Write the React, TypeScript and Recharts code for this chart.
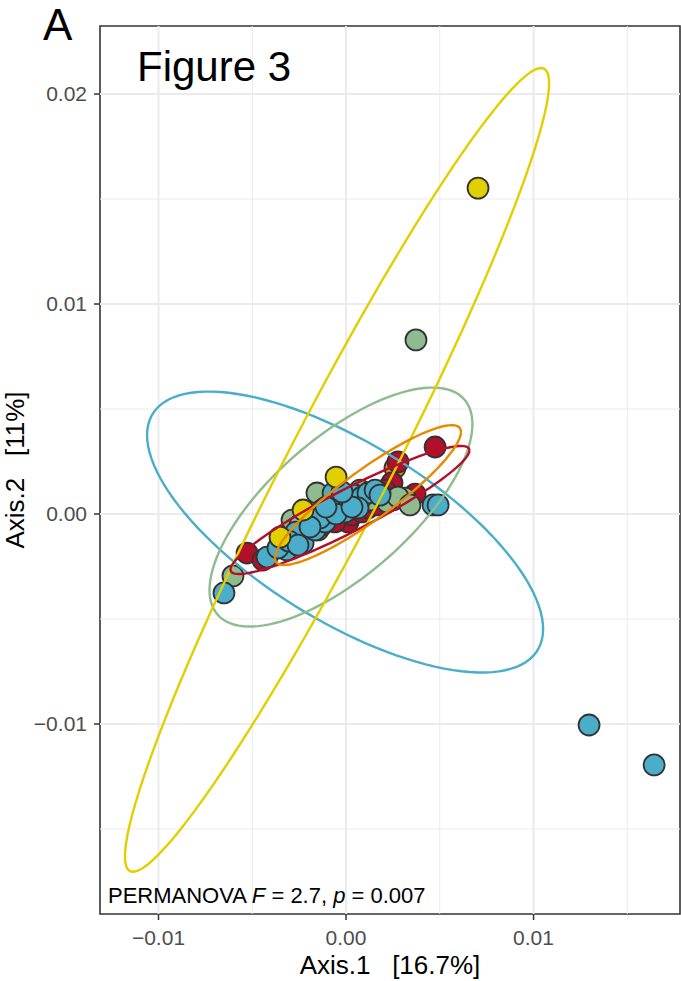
import React from 'react';
import { ScatterChart, Scatter, XAxis, YAxis, ReferenceLine, ReferenceArea, Label } from 'recharts';

const FONT = '"Liberation Sans", Arial, Helvetica, sans-serif';

// Axis setup
const xDomain: [number, number] = [-0.01312, 0.01781];
const yDomain: [number, number] = [-0.01905, 0.02324];
const xTicks = [-0.01, 0, 0.01];
const yTicks = [-0.01, 0, 0.01, 0.02];
const xMinor = [-0.005, 0.005, 0.015];
const yMinor = [-0.015, -0.005, 0.005, 0.015];

// PCoA sample coordinates per group
const orangePoints = [
  { x: 0.00261, y: 0.00219 },
  { x: -0.00245, y: -0.00124 },
  { x: -0.00059, y: 0.0001 },
  { x: 0.00032, y: 0.00052 },
  { x: 0.00085, y: 0.00067 },
  { x: 0.00155, y: 0.00076 },
  { x: -0.00325, y: -0.00162 },
  { x: -0.00149, y: -0.00076 },
];

const redPoints = [
  { x: -0.00528, y: -0.00186 },
  { x: -0.00443, y: -0.00219 },
  { x: 0.00475, y: 0.00319 },
  { x: 0.00277, y: 0.00248 },
  { x: 0.00245, y: 0.00148 },
  { x: 0.00368, y: 0.00095 },
  { x: 0.00075, y: 0.00043 },
  { x: -0.00032, y: -0.00014 },
  { x: 0.00048, y: 0.00019 },
  { x: 0.00139, y: 0.00057 },
  { x: 0.00208, y: 0.00114 },
  { x: -0.00128, y: -0.00052 },
  { x: 0.00101, y: 0.00081 },
  { x: 0.00011, y: -0.00038 },
  { x: 0.00032, y: -0.00005 },
  { x: 0.00085, y: 0.0001 },
  { x: 0.00117, y: 0.00029 },
  { x: 0.00171, y: 0.00043 },
  { x: -0.00059, y: -0.00038 },
];

const greenPoints = [
  { x: -0.00603, y: -0.00295 },
  { x: -0.00155, y: 0.001 },
  { x: -0.00288, y: -0.00029 },
  { x: 0.00251, y: 0.00067 },
  { x: 0.00219, y: 0.00057 },
  { x: 0.00373, y: 0.00829 },
  { x: 0.00315, y: 0.00076 },
  { x: 0.00128, y: 0.00067 },
  { x: -0.00085, y: 0.00043 },
  { x: -0.00245, y: -0.00052 },
  { x: 0.00277, y: 0.00081 },
  { x: 0.0, y: 0.00081 },
  { x: 0.00181, y: 0.001 },
  { x: -0.00128, y: 0.00019 },
  { x: 0.00075, y: 0.00114 },
  { x: 0.00341, y: 0.00043 },
];

const bluePoints = [
  { x: -0.00651, y: -0.00376 },
  { x: -0.00421, y: -0.00205 },
  { x: -0.00315, y: -0.00171 },
  { x: -0.00229, y: -0.00138 },
  { x: -0.00363, y: -0.00162 },
  { x: -0.00267, y: -0.00086 },
  { x: -0.00165, y: -0.00076 },
  { x: -0.00112, y: -0.00038 },
  { x: -0.00069, y: 0.001 },
  { x: -0.00032, y: 0.00043 },
  { x: 0.00021, y: 0.00067 },
  { x: 0.00048, y: 0.0009 },
  { x: 0.00085, y: 0.00081 },
  { x: 0.00117, y: 0.001 },
  { x: 0.00155, y: 0.00114 },
  { x: -0.00005, y: 0.0001 },
  { x: -0.00139, y: -0.00019 },
  { x: 0.00464, y: 0.00043 },
  { x: 0.00491, y: 0.00043 },
  { x: 0.00181, y: 0.0009 },
  { x: 0.01296, y: -0.01005 },
  { x: 0.01643, y: -0.01195 },
  { x: -0.00192, y: -0.00062 },
  { x: 0.00064, y: 0.00029 },
  { x: -0.00304, y: -0.00129 },
  { x: -0.00053, y: 0.0 },
  { x: 0.00032, y: 0.00033 },
  { x: -0.00256, y: -0.00148 },
  { x: -0.00107, y: 0.00033 },
  { x: -0.00021, y: 0.00105 },
];

const yellowPoints = [
  { x: 0.00704, y: 0.01552 },
  { x: -0.00053, y: 0.00176 },
  { x: -0.00229, y: 0.00019 },
  { x: -0.00352, y: -0.0011 },
];

// Confidence ellipses: centre, half-extents along each axis, correlation
const ellipseCentres = {
  yellow: [-0.00048, 0.0021],
  green: [-0.00027, 0.00033],
  blue: [-0.00005, -0.00086],
  red: [0.00021, 0.00019],
  orange: [0.00117, 0.0009],
};
const ellipseSpreads = {
  yellow: [0.01131, 0.01914],
  green: [0.00701, 0.00569],
  blue: [0.01056, 0.00669],
  red: [0.00637, 0.00305],
  orange: [0.00496, 0.00333],
};
const ellipseCorrelations = {
  yellow: 0.962,
  green: 0.695,
  blue: -0.69,
  red: 0.93,
  orange: 0.9,
};

const colours = {
  yellow: '#E1CF00',
  green: '#8FBC8F',
  blue: '#4AADCA',
  red: '#B2102A',
  orange: '#E88A00',
};

type Group = keyof typeof colours;

function ellipseOutline(g: Group) {
  const [cx, cy] = ellipseCentres[g];
  const [sx, sy] = ellipseSpreads[g];
  const r = ellipseCorrelations[g];
  const q = Math.sqrt(1 - r * r);
  const pts: { x: number; y: number }[] = [];
  const n = 120;
  for (let i = 0; i <= n; i++) {
    const t = (2 * Math.PI * i) / n;
    pts.push({ x: cx + sx * Math.cos(t), y: cy + sy * (r * Math.cos(t) + q * Math.sin(t)) });
  }
  return pts;
}

const fmt = (v: number) => (v < 0 ? '\u2212' : '') + Math.abs(v).toFixed(2);

const dot = (fill: string) => (props: any) => (
  <circle cx={props.cx} cy={props.cy} r={10.5} fill={fill} stroke="#333333" strokeWidth={1.8} />
);

const noShape = () => <g />;

const pointSeries: [Group, { x: number; y: number }[]][] = [
  ['orange', orangePoints],
  ['red', redPoints],
  ['green', greenPoints],
  ['blue', bluePoints],
  ['yellow', yellowPoints],
];

const ellipseOrder: Group[] = ['blue', 'green', 'yellow', 'red', 'orange'];

export default function App() {
  return (
    <div style={{ position: 'absolute', left: 0, top: 0, width: 681, height: 981, background: '#fff' }}>
      <ScatterChart
        width={681}
        height={981}
        margin={{ top: 26, right: 1, bottom: 27, left: 40 }}
        style={{ fontFamily: FONT }}
      >
        <XAxis
          type="number"
          dataKey="x"
          domain={xDomain}
          allowDataOverflow
          ticks={xTicks}
          tickFormatter={fmt}
          height={40}
          axisLine={false}
          tickSize={6}
          tickMargin={10}
          tickLine={{ stroke: '#333333', strokeWidth: 1.5 }}
          tick={{ fill: '#4D4D4D', fontSize: 21, fontFamily: FONT }}
        >
          <Label
            content={() => (
              <text x={390} y={974} textAnchor="middle" fontSize={26} fill="#000" fontFamily={FONT} style={{ whiteSpace: 'pre' }}>
                {'Axis.1   [16.7%]'}
              </text>
            )}
          />
          <Label
            content={() => (
              <text x={24} y={470} textAnchor="middle" fontSize={26} fill="#000" fontFamily={FONT} transform="rotate(-90 24 470)" style={{ whiteSpace: 'pre' }}>
                {'Axis.2   [11%]'}
              </text>
            )}
          />
          <Label
            content={() => (
              <text x={43} y={40} fontSize={44} fill="#000" fontFamily={FONT}>
                A
              </text>
            )}
          />
          <Label
            content={() => (
              <text x={137} y={81} fontSize={42} fill="#000" fontFamily={FONT}>
                Figure 3
              </text>
            )}
          />
          <Label
            content={() => (
              <text x={108} y={903} fontSize={22} fill="#000" fontFamily={FONT} style={{ whiteSpace: 'pre' }}>
                <tspan>{'PERMANOVA '}</tspan>
                <tspan fontStyle="italic">F</tspan>
                <tspan>{' = 2.7, '}</tspan>
                <tspan fontStyle="italic">p</tspan>
                <tspan>{' = 0.007'}</tspan>
              </text>
            )}
          />
        </XAxis>
        <YAxis
          type="number"
          dataKey="y"
          domain={yDomain}
          allowDataOverflow
          ticks={yTicks}
          tickFormatter={fmt}
          width={60}
          axisLine={false}
          tickSize={6}
          tickMargin={7}
          tickLine={{ stroke: '#333333', strokeWidth: 1.5 }}
          tick={{ fill: '#4D4D4D', fontSize: 21, fontFamily: FONT }}
        />

        {xMinor.map((v) => (
          <ReferenceLine key={'xm' + v} x={v} stroke="#EBEBEB" strokeWidth={1} />
        ))}
        {yMinor.map((v) => (
          <ReferenceLine key={'ym' + v} y={v} stroke="#EBEBEB" strokeWidth={1} />
        ))}
        {xTicks.map((v) => (
          <ReferenceLine key={'xM' + v} x={v} stroke="#EBEBEB" strokeWidth={2} />
        ))}
        {yTicks.map((v) => (
          <ReferenceLine key={'yM' + v} y={v} stroke="#EBEBEB" strokeWidth={2} />
        ))}

        {pointSeries.map(([g, pts]) => (
          <Scatter key={'p' + g} data={pts} fill={colours[g]} shape={dot(colours[g])} isAnimationActive={false} />
        ))}

        {ellipseOrder.map((g) => (
          <Scatter
            key={'e' + g}
            data={ellipseOutline(g)}
            line={{ stroke: colours[g], strokeWidth: 2.4 }}
            lineJointType="linear"
            shape={noShape}
            isAnimationActive={false}
          />
        ))}

        <ReferenceArea
          x1={xDomain[0]}
          x2={xDomain[1]}
          y1={yDomain[0]}
          y2={yDomain[1]}
          fill="none"
          fillOpacity={0}
          stroke="#333333"
          strokeWidth={1.6}
          ifOverflow="visible"
        />
      </ScatterChart>
    </div>
  );
}
